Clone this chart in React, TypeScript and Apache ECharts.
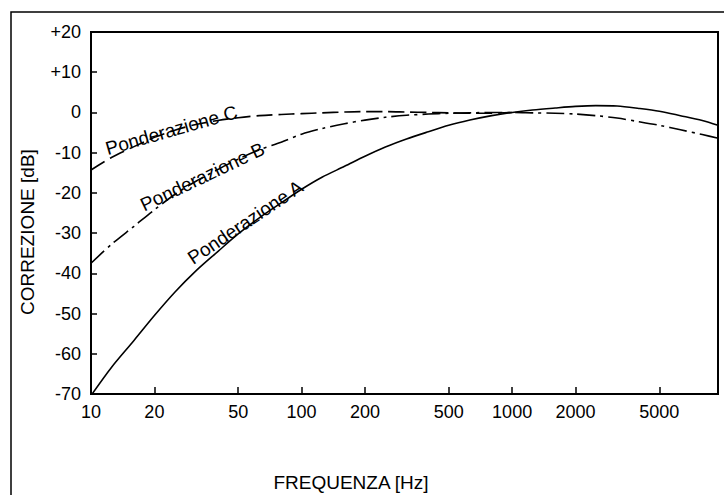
import React, { useEffect, useRef } from "react";
import * as echarts from "echarts";

const FREQ = [10, 12.5, 16, 20, 25, 31.5, 40, 50, 63, 80, 100, 125, 160, 200, 250, 315, 400, 500, 630, 800, 1000, 1250, 1600, 2000, 2500, 3150, 4000, 5000, 6300, 8000, 9500];
// Ponderazione A (dB)
const CURVE_A = [-70.4, -63.4, -56.7, -50.5, -44.7, -39.4, -34.6, -30.2, -26.2, -22.5, -19.1, -16.1, -13.4, -10.9, -8.6, -6.6, -4.8, -3.2, -1.9, -0.8, 0, 0.6, 1.1, 1.5, 1.7, 1.6, 1.0, 0.3, -0.8, -2.0, -3.2];
// Ponderazione B (dB)
const CURVE_B = [-37.5, -32.8, -28.3, -24.2, -20.4, -17.1, -14.2, -11.6, -9.3, -7.4, -5.4, -4.0, -2.8, -1.9, -1.2, -0.7, -0.4, -0.2, -0.1, 0, 0, -0.1, -0.2, -0.4, -0.8, -1.4, -2.3, -3.2, -4.3, -5.5, -6.4];
// Ponderazione C (dB) – above 1000 Hz it coincides with B
const CURVE_C = [-14.3, -11.2, -8.5, -6.2, -4.4, -3.0, -2.0, -1.3, -0.8, -0.5, -0.3, -0.1, 0.1, 0.2, 0.2, 0.1, 0, -0.1, -0.2, -0.2, 0, -0.1, -0.2, -0.4, -0.8, -1.4, -2.3, -3.2, -4.3, -5.5, -6.4];
const C_LAST_FREQ = 1000;

const X_TICKS = [10, 20, 50, 100, 200, 500, 1000, 2000, 5000];
const Y_MIN = -70;
const Y_MAX = 20;
const Y_STEP = 10;
const X_MIN = 10;
const X_MAX = 9500;

const Y_NAME = "CORREZIONE [dB]";
const X_NAME = "FREQUENZA [Hz]";

// Curve labels, anchored in data coordinates (Hz, dB)
const LABELS = [
  { text: "Ponderazione C", f: 24.1, db: -4.4, angle: 16 },
  { text: "Ponderazione B", f: 33.8, db: -16.0, angle: 25.5 },
  { text: "Ponderazione A", f: 54, db: -27.3, angle: 34 },
];

const FONT = "'Liberation Sans', Arial, Helvetica, sans-serif";

export default function App() {
  const ref = useRef<HTMLDivElement>(null);

  useEffect(() => {
    if (!ref.current) return;
    const chart = echarts.init(ref.current, undefined, { renderer: "svg" });

    const pts = (vals: number[]) => FREQ.map((f, i) => [f, vals[i]]);
    const cPts = pts(CURVE_C).filter((p) => p[0] <= C_LAST_FREQ);

    const option: any = {
      animation: false,
      backgroundColor: "#fff",
      grid: {
        left: 91,
        right: 6,
        top: 32,
        bottom: 101,
        show: true,
        borderColor: "#000",
        borderWidth: 2,
        backgroundColor: "transparent",
      },
      xAxis: {
        type: "log",
        logBase: 10,
        min: X_MIN,
        max: X_MAX,
        axisLine: { show: true, onZero: false, lineStyle: { color: "#000", width: 2 } },
        axisTick: {
          show: true,
          inside: true,
          length: 7,
          customValues: X_TICKS,
          lineStyle: { color: "#000", width: 1.5 },
        },
        axisLabel: {
          customValues: X_TICKS,
          formatter: (v: number) => String(v),
          color: "#000",
          fontSize: 18,
          fontFamily: FONT,
          margin: 9,
        },
        splitLine: { show: false },
        minorTick: { show: false },
      },
      yAxis: {
        type: "value",
        min: Y_MIN,
        max: Y_MAX,
        interval: Y_STEP,
        axisLine: { show: true, onZero: false, lineStyle: { color: "#000", width: 2 } },
        axisTick: { show: true, inside: true, length: 6, lineStyle: { color: "#000", width: 1.5 } },
        axisLabel: {
          formatter: (v: number) => (v > 0 ? "+" + v : String(v)),
          color: "#000",
          fontSize: 18,
          fontFamily: FONT,
          margin: 10,
        },
        splitLine: { show: false },
      },
      series: [
        {
          name: "Ponderazione A",
          type: "line",
          data: pts(CURVE_A),
          smooth: 0.3,
          showSymbol: false,
          lineStyle: { color: "#000", width: 1.6, type: "solid" },
        },
        {
          name: "Ponderazione B",
          type: "line",
          data: pts(CURVE_B),
          smooth: 0.3,
          showSymbol: false,
          lineStyle: { color: "#000", width: 1.6, type: [18, 5, 3, 5] },
        },
        {
          name: "Ponderazione C",
          type: "line",
          data: cPts,
          smooth: 0.3,
          showSymbol: false,
          lineStyle: { color: "#000", width: 1.6, type: [16, 6] },
        },
      ],
    };

    chart.setOption(option);

    const labelEls = LABELS.map((l, i) => {
      const p = chart.convertToPixel({ gridIndex: 0 }, [l.f, l.db]) as number[];
      return {
        type: "text",
        id: "lbl" + i,
        x: p[0],
        y: p[1],
        rotation: (l.angle * Math.PI) / 180,
        style: {
          text: l.text,
          fontSize: 19,
          fontFamily: FONT,
          fill: "#000",
          align: "center",
          verticalAlign: "middle",
        },
      };
    });

    chart.setOption({
      graphic: [
        {
          type: "rect",
          id: "frame",
          shape: { x: 11, y: 12, width: 800, height: 600 },
          style: { fill: "none", stroke: "#000", lineWidth: 1.5 },
          silent: true,
        },
        {
          type: "text",
          id: "yname",
          x: 27,
          y: 232,
          rotation: Math.PI / 2,
          style: {
            text: Y_NAME,
            fontSize: 19,
            fontFamily: FONT,
            fill: "#000",
            align: "center",
            verticalAlign: "middle",
          },
        },
        {
          type: "text",
          id: "xname",
          x: 351,
          y: 482,
          style: {
            text: X_NAME,
            fontSize: 19,
            fontFamily: FONT,
            fill: "#000",
            align: "center",
            verticalAlign: "middle",
          },
        },
        ...labelEls,
      ],
    });

    return () => chart.dispose();
  }, []);

  return (
    <div
      ref={ref}
      style={{ position: "fixed", left: 0, top: 0, width: 724, height: 495, background: "#fff" }}
    />
  );
}
